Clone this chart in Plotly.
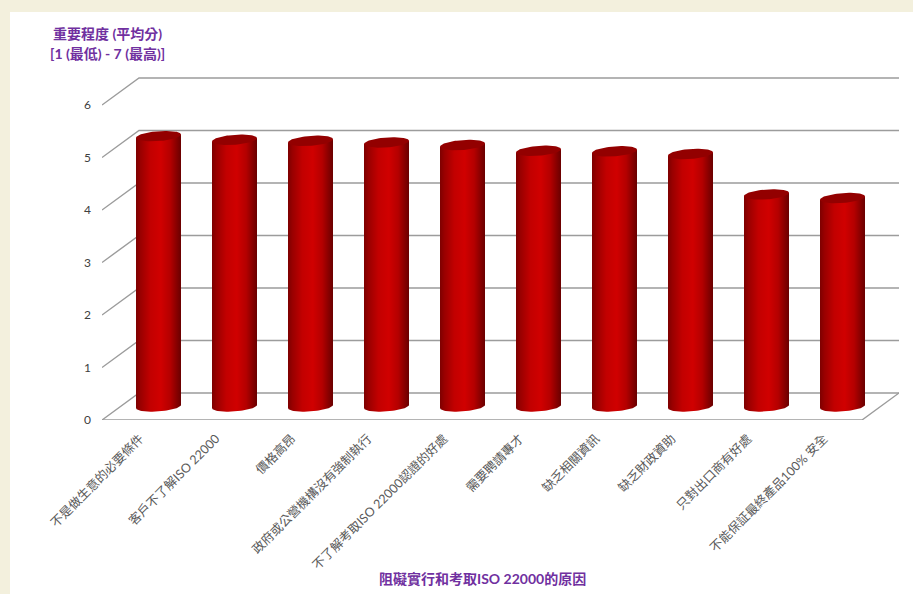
import numpy as np
import plotly.graph_objects as go

categories = ["不是做生意的必要條件", "客戶不了解ISO 22000", "價格高昂", "政府或公營機構沒有強制執行",
              "不了解考取ISO 22000認證的好處", "需要聘請專才", "缺乏相關資訊", "缺乏財政資助",
              "只對出口商有好處", "不能保証最終產品100% 安全"]
values = [5.15, 5.08, 5.06, 5.03, 4.98, 4.87, 4.86, 4.81, 4.04, 3.97]
y_ticks = [0, 1, 2, 3, 4, 5, 6]
y_title = ["重要程度 (平均分)", "[1 (最低) - 7 (最高)]"]
x_title = "阻礙實行和考取ISO 22000的原因"

W, H = 913, 594
L, R, T, B = 102, 899, 77, 420     # plot box in pixels
UX, UY = 76.0, 52.5                # pixels per category / per score unit
DX, DY = 37 / UX, 27 / UY          # chart depth in axis units
x0 = -0.5
x_range = [x0, x0 + (R - L) / UX]
y_range = [0, (B - T) / UY]
FONT = "Lato, 'Noto Sans CJK TC', sans-serif"
PURPLE = "#7030a0"
GRID = "#9c9c9c"
PAGE = "#f3f0dd"

fig = go.Figure()

# back wall, side wall and floor
for v in y_ticks:
    fig.add_trace(go.Scatter(x=[x0, x0 + DX, x_range[1]], y=[v, v + DY, v + DY], mode="lines",
                             line=dict(color=GRID, width=1.4), hoverinfo="skip", cliponaxis=False))
fig.add_trace(go.Scatter(x=[x0, x0 + 10, x_range[1]], y=[0, 0, DY], mode="lines",
                         line=dict(color=GRID, width=1.4), hoverinfo="skip", cliponaxis=False))

# cylinders
half = 22.5 / UX
ry = 5.0 / UY
tilt = 1.6 / UY
t_low = np.linspace(np.pi, 2 * np.pi, 40)
t_all = np.linspace(0, 2 * np.pi, 80)
gradient = [[0, "#7d0000"], [0.10, "#990000"], [0.32, "#c20000"], [0.55, "#d00000"],
            [0.76, "#b40000"], [0.92, "#820000"], [1, "#6a0000"]]
for i, v in enumerate(values):
    cx = i + DX / 2
    base = DY / 2
    top = base + v
    bx = cx + half * np.cos(t_low)
    by = base + ry * np.sin(t_low) + tilt * np.cos(t_low)
    xs = np.concatenate([bx, [cx + half, cx - half, cx - half]])
    ys = np.concatenate([by, [top + tilt, top - tilt, by[0]]])
    fig.add_trace(go.Scatter(x=xs, y=ys, mode="lines", fill="toself", line=dict(width=0),
                             fillgradient=dict(type="horizontal", colorscale=gradient),
                             hoverinfo="skip"))
    fig.add_trace(go.Scatter(x=cx + half * np.cos(t_all),
                             y=top + ry * np.sin(t_all) + tilt * np.cos(t_all),
                             mode="lines", fill="toself", fillcolor="#930000",
                             line=dict(width=0), hoverinfo="skip"))

def px(x):
    return (x - L) / (R - L)

def py(y):
    return (B - y) / (B - T)

notes = [(107, 34, y_title[0], 14), (107, 54, y_title[1], 14), (482, 578, x_title, 14)]
annotations = [dict(x=px(a), y=py(b), xref="paper", yref="paper", text=t, showarrow=False,
                    xanchor="center", yanchor="middle",
                    font=dict(family=FONT, size=s, color=PURPLE, weight="bold"))
               for a, b, t, s in notes]

fig.update_layout(
    width=W, height=H, autosize=False, showlegend=False,
    margin=dict(l=L, r=W - R, t=T, b=H - B, pad=0),
    paper_bgcolor=PAGE, plot_bgcolor="rgba(0,0,0,0)",
    annotations=annotations,
    shapes=[dict(type="rect", xref="paper", yref="paper", x0=px(10), x1=px(W + 5),
                 y0=py(H + 5), y1=py(12), fillcolor="white", line=dict(width=0), layer="below")],
    xaxis=dict(range=x_range, tickmode="array", tickvals=list(range(len(categories))),
               ticktext=categories, tickangle=-45, showgrid=False, zeroline=False, showline=False,
               ticks="", ticklabelstandoff=8,
               tickfont=dict(family=FONT, size=12.5, color="#595959"), fixedrange=True),
    yaxis=dict(range=y_range, tickmode="array", tickvals=y_ticks, showgrid=False, zeroline=False,
               showline=False, ticks="", ticklabelstandoff=10,
               tickfont=dict(family=FONT, size=12, color="#404040"), fixedrange=True),
)
fig.write_html("out.html", config=dict(displayModeBar=False),
               post_script="document.body.style.margin='0';document.body.style.overflow='hidden';"
                           "document.body.style.background='" + PAGE + "';")
